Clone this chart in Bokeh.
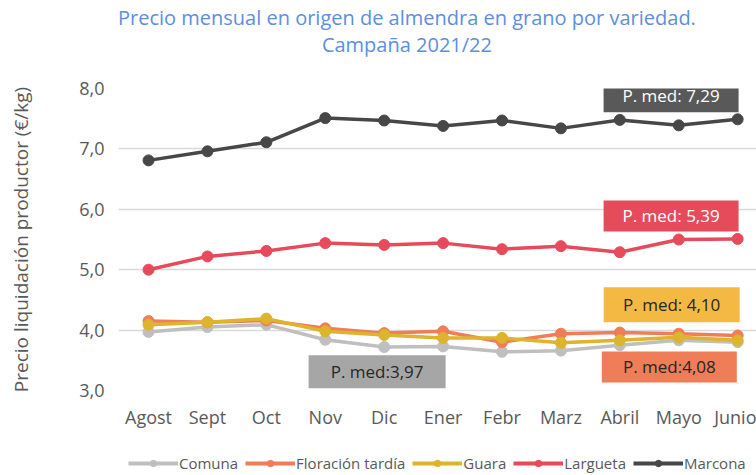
from bokeh.plotting import figure
from bokeh.layouts import column
from bokeh.models import (ColumnDataSource, FixedTicker, Legend, LegendItem, Range1d, Div)
from bokeh.core.properties import value
from bokeh.embed import file_html
from bokeh.resources import INLINE

months = ["Agost", "Sept", "Oct", "Nov", "Dic", "Ener", "Febr", "Marz", "Abril", "Mayo", "Junio"]
comuna = [3.97, 4.05, 4.09, 3.84, 3.72, 3.73, 3.64, 3.66, 3.75, 3.83, 3.80]
floracion = [4.15, 4.13, 4.16, 4.03, 3.95, 3.98, 3.80, 3.94, 3.96, 3.94, 3.91]
guara = [4.09, 4.13, 4.19, 3.98, 3.92, 3.87, 3.87, 3.79, 3.83, 3.88, 3.83]
largueta = [5.00, 5.22, 5.31, 5.44, 5.41, 5.44, 5.34, 5.39, 5.29, 5.50, 5.51]
marcona = [6.81, 6.96, 7.11, 7.51, 7.47, 7.38, 7.47, 7.34, 7.48, 7.39, 7.49]
series_names = ["Comuna", "Floración tardía", "Guara", "Largueta", "Marcona"]
y_ticks = [3, 4, 5, 6, 7, 8]
y_tick_labels = ["3,0", "4,0", "5,0", "6,0", "7,0", "8,0"]
avg_labels = ["P. med:3,97", "P. med:4,08", "P. med: 4,10", "P. med: 5,39", "P. med: 7,29"]
title_lines = ["Precio mensual en origen de almendra en grano por variedad.", "Campaña 2021/22"]

colors = ["#BFBFBF", "#EE7D58", "#DDB42B", "#E64B5B", "#474747"]
FONT = "Open Sans"
TITLE_COLOR = "#5B8FE0"
W = 756

# header with the two centred title lines (centred over the plot area)
line_style = ("margin-left:118px;text-align:center;font-family:'Open Sans';font-size:20px;"
              "line-height:22px;color:%s;white-space:nowrap;" % TITLE_COLOR)
header_html = ('<div style="%spadding-top:7px;">%s</div><div style="%smargin-top:5px;">%s</div>'
               % (line_style, title_lines[0], line_style, title_lines[1]))
header = Div(text=header_html, width=W, height=56, margin=0)

p = figure(width=W, height=384, output_backend="svg", toolbar_location=None,
           x_range=Range1d(-0.51, 10.32), y_range=Range1d(3, 8),
           min_border_left=118, min_border_right=0, min_border_top=32, min_border_bottom=50)
p.outline_line_color = None
p.background_fill_color = "white"
p.border_fill_color = "white"

# axes
p.xaxis.ticker = FixedTicker(ticks=list(range(len(months))))
p.xaxis.major_label_overrides = {i: m for i, m in enumerate(months)}
p.yaxis.ticker = FixedTicker(ticks=y_ticks)
p.yaxis.major_label_overrides = {t: l for t, l in zip(y_ticks, y_tick_labels)}
for ax in (p.xaxis[0], p.yaxis[0]):
    ax.axis_line_color = None
    ax.major_tick_line_color = None
    ax.minor_tick_line_color = None
    ax.major_tick_out = 0
    ax.major_tick_in = 0
    ax.minor_tick_out = 0
    ax.major_label_text_font = FONT
    ax.major_label_text_font_size = "18px"
    ax.major_label_text_color = "#595959"
p.xaxis.major_label_standoff = 14
p.yaxis.major_label_standoff = 14
p.yaxis.axis_label = "Precio liquidación productor (€/kg)"
p.yaxis.axis_label_text_font = FONT
p.yaxis.axis_label_text_font_style = "normal"
p.yaxis.axis_label_text_font_size = "19px"
p.yaxis.axis_label_text_color = "#595959"
p.yaxis.axis_label_standoff = 42
p.xgrid.grid_line_color = None
p.ygrid.grid_line_color = "#D9D9D9"
p.ygrid.grid_line_width = 1.5

xs = list(range(len(months)))
all_series = [comuna, floracion, guara, largueta, marcona]
for vals, col in zip(all_series, colors):
    src = ColumnDataSource(dict(x=xs, y=vals))
    p.line("x", "y", source=src, line_color=col, line_width=3.5)
    p.scatter("x", "y", source=src, size=11, fill_color=col, line_color=col)

# average boxes
box_x = [3.88, 8.84, 8.88, 8.87, 8.87]
box_y = [3.31, 3.39, 4.42, 5.89, 7.88]
box_w = [137, 135, 136, 135, 135]
box_h = [33, 31, 35, 31, 33]
box_fill = ["#A6A6A6", "#EE7D58", "#F4B942", "#E64B5B", "#595959"]
box_text = ["#262626", "#262626", "#262626", "#FFFFFF", "#FFFFFF"]
bsrc = ColumnDataSource(dict(x=box_x, y=box_y, w=box_w, h=box_h, fill=box_fill,
                             tc=box_text, t=avg_labels))
p.rect("x", "y", width="w", height="h", width_units="screen", height_units="screen",
       source=bsrc, fill_color="fill", line_color=None)
p.text("x", "y", text="t", source=bsrc, text_color="tc", text_align="center",
       text_baseline="middle", text_font=value(FONT), text_font_size="17px")

# legend strip (same series, drawn outside its visible range)
leg = figure(width=W, height=35, output_backend="svg", toolbar_location=None,
             x_range=Range1d(100, 101), y_range=Range1d(100, 101),
             min_border_left=118, min_border_right=0, min_border_top=0, min_border_bottom=0)
leg.axis.visible = False
leg.grid.visible = False
leg.outline_line_color = None
items = []
for name, vals, col in zip(series_names, all_series, colors):
    src = ColumnDataSource(dict(x=xs, y=vals))
    l = leg.line("x", "y", source=src, line_color=col, line_width=4)
    c = leg.scatter("x", "y", source=src, size=12, fill_color=col, line_color=col)
    items.append(LegendItem(label=name, renderers=[l, c]))
legend = Legend(items=items, orientation="horizontal", location=(10, 2),
                glyph_width=50, glyph_height=16, label_standoff=1, spacing=7,
                label_text_font=FONT, label_text_font_size="15px",
                label_text_color="#595959", border_line_color=None,
                background_fill_alpha=0, padding=0, margin=0)
leg.add_layout(legend)

open("out.html", "w").write(file_html(column(header, p, leg, spacing=0), INLINE))
